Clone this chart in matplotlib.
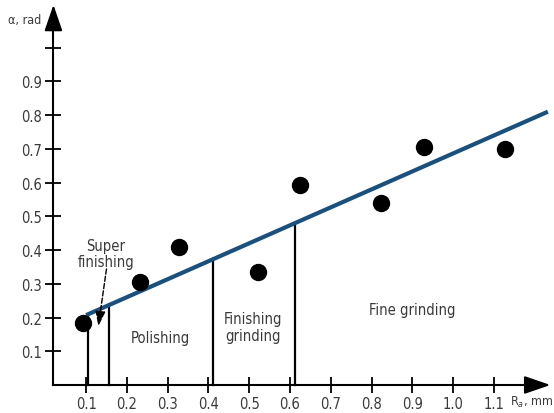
import numpy as np
import matplotlib
matplotlib.use('Agg')
import matplotlib.pyplot as plt

plt.rcParams['font.family'] = ['DejaVu Sans']
plt.rcParams['font.stretch'] = 'condensed'

# measured points
ra = [0.093, 0.232, 0.328, 0.521, 0.624, 0.823, 0.928, 1.127]
alpha = [0.184, 0.305, 0.409, 0.335, 0.593, 0.539, 0.705, 0.699]

# fitted trend line ends
fit_x = [0.100, 1.232]
fit_y = [0.207, 0.810]

# boundaries between machining zones
bounds = [0.105, 0.156, 0.41, 0.612]

x_ticks = [0.1, 0.2, 0.3, 0.4, 0.5, 0.6, 0.7, 0.8, 0.9, 1.0, 1.1]
x_labels = ['0.1', '0.2', '0.3', '0.4', '0.5', '0.6', '0.7', '0.8', '0.9', '1.0', '1.1']
y_ticks = [0.1, 0.2, 0.3, 0.4, 0.5, 0.6, 0.7, 0.8, 0.9, 1.0]
y_labels = ['0.1', '0.2', '0.3', '0.4', '0.5', '0.6', '0.7', '0.8', '0.9', '']

ink = '#3a3a3a'

fig = plt.figure(figsize=(5.54, 4.14), dpi=100)
ax = fig.add_axes([0, 0, 1, 1])
ax.set_xlim(-0.111, 1.247)
ax.set_ylim(-0.083, 1.144)
ax.patch.set_visible(False)

for s in ['top', 'right']:
    ax.spines[s].set_visible(False)
ax.spines['left'].set_position(('data', 0.02))
ax.spines['bottom'].set_position(('data', 0.0))
ax.spines['left'].set_bounds(0.0, 1.10)
ax.spines['bottom'].set_bounds(0.02, 1.21)
ax.spines['left'].set_linewidth(1.5)
ax.spines['bottom'].set_linewidth(1.5)

ax.set_xticks(x_ticks)
ax.set_xticklabels(x_labels)
ax.set_yticks(y_ticks)
ax.set_yticklabels(y_labels)
ax.tick_params(direction='inout', length=12, width=1.3, labelsize=10.5,
               labelcolor=ink, pad=2)

# axis arrowheads
ax.annotate('', xy=(0.02, 1.135), xytext=(0.02, 1.05),
            arrowprops=dict(arrowstyle='-|>,head_length=1.6,head_width=0.55',
                            color='black', lw=1.5))
ax.annotate('', xy=(1.245, 0.0), xytext=(1.17, 0.0),
            arrowprops=dict(arrowstyle='-|>,head_length=1.6,head_width=0.55',
                            color='black', lw=1.5))

ax.text(-0.091, 1.084, 'α, rad', fontsize=9, color=ink, ha='left', va='center')
ax.text(1.244, -0.05, 'R$_a$, mm', fontsize=9, color=ink, ha='right', va='center')

# zone boundaries, up to the trend line
slope = (fit_y[1] - fit_y[0]) / (fit_x[1] - fit_x[0])
for b in bounds:
    top = fit_y[0] + slope * (b - fit_x[0])
    ax.plot([b, b], [0, top], color='black', lw=1.6)

ax.plot(fit_x, fit_y, color='#1b4f7c', lw=3.0, solid_capstyle='butt', zorder=3)
ax.plot(ra, alpha, 'o', color='black', markersize=11.5, zorder=4)

ax.text(0.148, 0.39, 'Super\nfinishing', fontsize=10.5, color=ink,
        ha='center', va='center', linespacing=1.1)
ax.annotate('', xy=(0.129, 0.166), xytext=(0.151, 0.352),
            arrowprops=dict(arrowstyle='-|>,head_length=0.9,head_width=0.3',
                            color='black', lw=1.0, linestyle='--'))
ax.text(0.282, 0.142, 'Polishing', fontsize=10.5, color=ink, ha='center', va='center')
ax.text(0.51, 0.172, 'Finishing\ngrinding', fontsize=10.5, color=ink,
        ha='center', va='center', linespacing=1.1)
ax.text(0.9, 0.225, 'Fine grinding', fontsize=10.5, color=ink, ha='center', va='center')

fig.savefig('out.png', dpi=100)
